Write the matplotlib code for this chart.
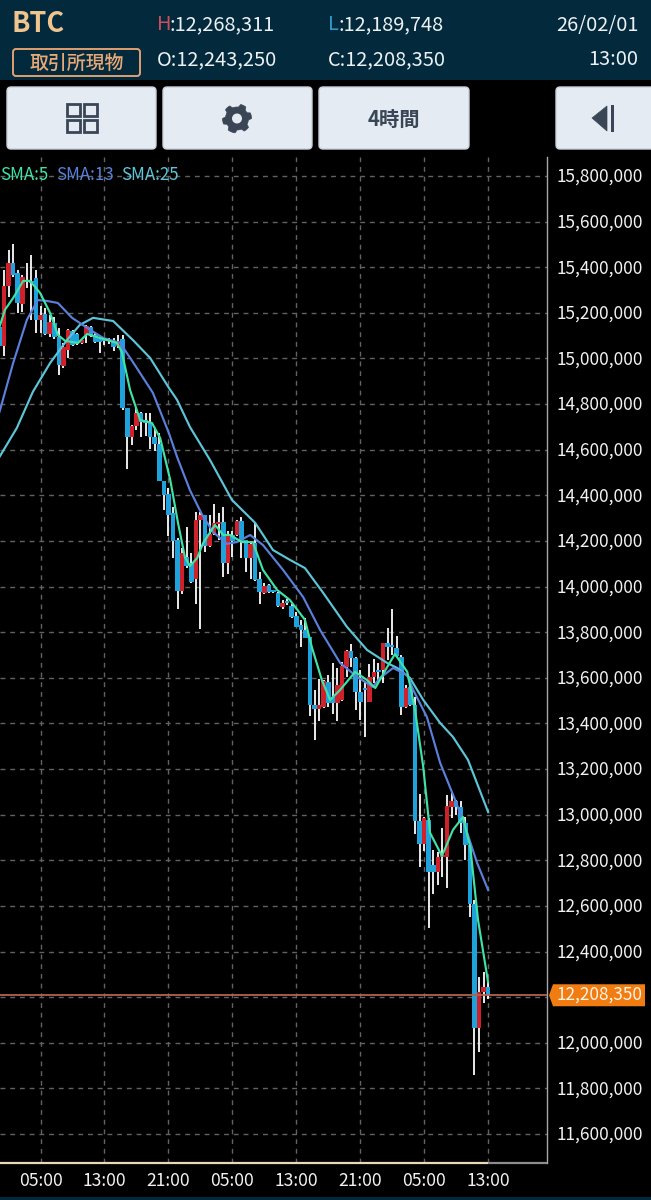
import matplotlib
matplotlib.use("Agg")
import matplotlib.pyplot as plt
from matplotlib.patches import FancyBboxPatch, Rectangle, Polygon, Circle
import numpy as np

plt.rcParams['font.family'] = ['Noto Sans CJK JP', 'DejaVu Sans']

# 4-hour candles, thousands of JPY
opens = [15138,15055,15318,15419,15375,15239,15335,15340,15353,15169,15195,15107,15156,15094,14967,15037,15121,15107,15068,15103,
         15138,15103,15090,15081,15077,15072,15055,15085,14783,14656,14704,14761,14730,14717,14656,14625,14463,14406,14323,14204,
         13981,14130,14103,14033,14292,14314,14178,14231,14274,14283,14103,14226,14226,14287,14204,14125,14191,14033,13972,14007,
         13981,13972,13911,13932,13915,13871,13832,13810,13779,13481,13463,13472,13582,13516,13490,13503,13647,13718,13687,13538,
         13555,13494,13604,13634,13634,13752,13744,13731,13691,13472,13560,13481,12972,12872,12977,12780,12749,12815,12815,13034,
         13060,13034,12964,12867,12608,12065,12223,12243.25]
highs = [15169,15388,15476,15502,15388,15366,15419,15454,15388,15230,15221,15191,15182,15134,15068,15129,15125,15112,15081,15147,
         15142,15112,15094,15090,15090,15090,15103,15103,14783,14708,14783,14765,14761,14761,14695,14672,14463,14432,14349,14213,
         14169,14261,14147,14327,14327,14314,14314,14362,14323,14349,14244,14244,14292,14305,14204,14195,14279,14064,14016,14012,
         13985,13976,13941,13945,13924,13889,13854,13862,13779,13547,13595,13590,13612,13665,13643,13669,13722,13748,13691,13634,
         13582,13661,13683,13665,13752,13818,13902,13783,13700,13569,13569,13516,13091,12990,12986,12845,12836,12942,13086,13095,
         13064,13060,12990,12876,12625,12288,12310,12268.311]
lows = [15055,15011,15270,15357,15199,15204,15309,15169,15112,15112,15103,15094,15085,14928,14958,15002,15055,15059,15064,15068,
        15094,15068,15024,15059,15064,15033,15046,14774,14515,14621,14686,14656,14660,14603,14594,14463,14336,14222,14125,13902,
        13968,14081,14016,13924,13814,14152,14174,14226,14204,14042,14055,14130,14222,14125,14064,14033,14024,13924,13968,13972,
        13972,13911,13902,13919,13862,13823,13735,13775,13432,13327,13411,13468,13472,13441,13411,13498,13604,13647,13459,13415,
        13341,13494,13577,13577,13577,13678,13700,13691,13437,13468,13476,12915,12771,12841,12503,12652,12692,12727,12678,12986,
        13000,12920,12801,12551,11859,11960,12174,12189.748]
closes = [15055,15318,15419,15366,15243,15357,15344,15331,15169,15191,15107,15160,15094,14971,15050,15125,15059,15064,15081,15142,
          15098,15072,15072,15077,15081,15050,15077,14783,14656,14704,14761,14722,14717,14656,14625,14463,14402,14314,14200,13981,
          14147,14090,14020,14292,14314,14178,14231,14279,14283,14103,14226,14200,14287,14195,14125,14187,14029,13976,14003,13976,
          13976,13915,13928,13928,13867,13823,13810,13775,13481,13463,13481,13586,13490,13490,13569,13652,13718,13687,13538,13494,
          13547,13604,13626,13626,13752,13735,13735,13696,13472,13555,13481,12972,12872,12986,12749,12749,12815,12823,13038,13060,
          13034,12964,12867,12608,12065,12223,12245,12208.35]

sma25_i = [0,3.8,7.3,11.1,14.8,17.6,20.5,24.9,29.2,33,37.1,38.9,41.7,46.1,50.9,56,59.9,63.6,66.9,70.9,76.1,80.5,84.9,87.1,89.9,92.8,96.5,99.3,102.6,107]
sma25_v = [14568,14695,14853,14980,15081,15147,15178,15164,15081,15002,14871,14818,14700,14555,14380,14279,14160,14117,14081,13972,13823,13722,13665,13643,13599,13503,13402,13341,13240,13012]
sma13_i = [0,3,6,8.4,10.4,12.8,15.9,19.2,22.7,26.4,29.2,33.6,37.1,38.9,41.7,44.4,46.8,49.8,52,54.9,57.7,62.1,66.5,70.2,74.6,78.3,81.8,83.3,86.2,89.3,90.6,93.6,96.5,99.8,102,104.6,107]
sma13_v = [14765,14980,15169,15256,15252,15243,15178,15134,15090,15068,14985,14849,14673,14568,14423,14314,14239,14187,14195,14226,14182,14073,13954,13810,13665,13604,13560,13599,13643,13612,13547,13428,13227,13064,12946,12788,12670]
sma5_i = [0,1.2,3,5.2,6.7,8.9,11.1,12.8,14.4,17.2,19.2,22,25.7,26.8,28.6,30.8,33.4,35.2,37.4,39.1,40.6,41.7,43.3,44.6,47.2,49,50.5,53.1,55.5,57.7,60.8,63.6,66.9,68.4,70.6,72.4,74.6,77.9,80.5,82.3,84.9,86.6,89.3,91,92.8,94.3,96.9,99.3,101.5,103.1,104.8,107]
sma5_v = [15138,15213,15265,15340,15340,15287,15199,15103,15077,15068,15107,15090,15068,15028,14862,14730,14717,14651,14467,14279,14130,14090,14125,14191,14270,14226,14226,14195,14195,14073,13985,13941,13854,13735,13590,13503,13547,13626,13590,13555,13647,13704,13626,13459,13209,12920,12819,12933,12990,12858,12538,12266]

y_ticks = [15800,15600,15400,15200,15000,14800,14600,14400,14200,14000,13800,13600,13400,13200,13000,12800,12600,12400,12200,12000,11800,11600]
hidden_y_labels = [12200]  # covered by the current-price tag in the reference
x_tick_labels = ['05:00','13:00','21:00','05:00','13:00','21:00','05:00','13:00']
x_tick_idx = [9,23,37,51,65,79,93,107]
last_price = 12208.35

W, H = 651, 1200
NAVY = '#032A3C'
fig = plt.figure(figsize=(W/100, H/100), dpi=100, facecolor='black')

def box(l, t, r, b):
    return [l/W, 1-b/H, (r-l)/W, (b-t)/H]

ax = fig.add_axes(box(0, 157, 547, 1163), facecolor='black', zorder=1)
ax.set_xlim(0.12, 119.9)
ax.set_ylim(11473, 15883)
for s in ['left', 'top', 'bottom']:
    ax.spines[s].set_visible(False)
ax.spines['right'].set_color('#a8a8a8')
ax.spines['right'].set_linewidth(1.0)
ax.set_yticks(y_ticks)
ax.set_xticks(x_tick_idx)
ax.set_xticklabels(x_tick_labels, color='#f2f2f2', fontsize=12.6)
ax.set_yticklabels([])
ax.tick_params(length=0)
ax.tick_params(axis='x', pad=6.5)
ax.grid(True, color='#626262', linewidth=1.0, linestyle=(0, (3.5, 3.5)))
ax.set_axisbelow(True)

idx = np.arange(len(opens))
o, h, l, c = map(np.array, (opens, highs, lows, closes))
up = c >= o
ax.vlines(idx, l, h, color='#f4f4f4', linewidth=1.35, zorder=3)
ax.bar(idx, np.maximum(np.abs(c-o), 8), bottom=np.minimum(o, c), width=1.0,
       color=np.where(up, '#D0202A', '#1FA2DB'), linewidth=0, zorder=4)

ax.plot(sma25_i, sma25_v, color='#5CC6D8', lw=1.55, zorder=5, solid_joinstyle='round')
ax.plot(sma13_i, sma13_v, color='#5A80DC', lw=1.55, zorder=5, solid_joinstyle='round')
ax.plot(sma5_i, sma5_v, color='#3FE3A6', lw=1.55, zorder=6, solid_joinstyle='round')
ax.plot([0.12, 119.9], [last_price, last_price], color='#B4624C', lw=1.3, zorder=7)

# page furniture in pixel coordinates
ov = fig.add_axes([0, 0, 1, 1], facecolor='none', zorder=2)
ov.set_xlim(0, W); ov.set_ylim(H, 0); ov.axis('off')
ov.add_patch(Rectangle((0, 0), W, 80, color=NAVY, lw=0))
ov.add_patch(Rectangle((0, 1197), W, 3, color=NAVY, lw=0))
ov.plot([0, 488], [1163, 1163], color='#EAD7BE', lw=1.6, solid_capstyle='butt')
ov.plot([488, 547], [1163, 1163], color='#8d8d8d', lw=1.6, solid_capstyle='butt')

TXT = '#EDF1F4'
FS = 14.4
ov.text(11, 24, 'BTC', color='#F0C48E', fontsize=19.5, fontweight='bold', va='center', ha='left')
ov.text(157, 25, 'H', color='#C9505A', fontsize=FS, va='center')
ov.text(169.5, 25, ':12,268,311', color=TXT, fontsize=FS, va='center')
ov.text(328, 25, 'L', color='#2E9CCB', fontsize=FS, va='center')
ov.text(338.5, 25, ':12,189,748', color=TXT, fontsize=FS, va='center')
ov.text(157, 59.5, 'O:12,243,250', color=TXT, fontsize=FS, va='center')
ov.text(328, 59.5, 'C:12,208,350', color=TXT, fontsize=FS, va='center')
ov.text(638.5, 25, '26/02/01', color=TXT, fontsize=FS, va='center', ha='right')
ov.text(638.5, 59.5, '13:00', color=TXT, fontsize=FS, va='center', ha='right')
ov.add_patch(FancyBboxPatch((13, 49), 127, 27, boxstyle='round,pad=0,rounding_size=3', fc='none', ec='#E0A070', lw=1.4))
ov.text(76.5, 62.5, '取引所現物', color='#E8A878', fontsize=13.6, fontweight='medium', va='center', ha='center')

for a, b in [(7, 156), (163, 312), (319, 469), (556, 660)]:
    ov.add_patch(FancyBboxPatch((a, 87), b-a, 62, boxstyle='round,pad=0,rounding_size=4', fc='#E5EBF2', ec='#CBD1D9', lw=1))
ICON = '#3A4656'
for x0, y0 in [(67, 104), (84, 104), (67, 120), (84, 120)]:
    ov.add_patch(Rectangle((x0, y0), 13, 12, fc='none', ec=ICON, lw=2.0))
angs = np.linspace(0, 2*np.pi, 48, endpoint=False)
rad = np.where(((angs + np.pi/8) % (np.pi/3)) < np.pi/6, 14.5, 11.5)
ov.add_patch(Polygon(np.c_[237+rad*np.cos(angs), 118.5+rad*np.sin(angs)], fc=ICON, ec=ICON, lw=0.5))
ov.add_patch(Circle((237, 118.5), 5, fc='#E5EBF2', ec='none'))
ov.text(394, 119, '4時間', color=ICON, fontsize=14.6, fontweight='bold', va='center', ha='center')
ov.add_patch(Polygon([[592, 118], [607, 106], [607, 131]], fc=ICON, ec=ICON, lw=0.5))
ov.add_patch(Rectangle((610.5, 105), 3, 27, fc=ICON, ec='none'))

SF = 12.2
ov.text(0, 175, 'SMA:5', color='#3FE3A6', fontsize=SF, va='center')
ov.text(56, 175, 'SMA:13', color='#5A80DC', fontsize=SF, va='center')
ov.text(121, 175, 'SMA:25', color='#5CC6D8', fontsize=SF, va='center')

# right price scale, placed with the chart's own y-scale
for t in y_ticks:
    if t in hidden_y_labels:
        continue
    ax.annotate(f'{t*1000:,}', xy=(1, t), xycoords=('axes fraction', 'data'), xytext=(10, -1),
                textcoords='offset pixels', color='#F2F2F2', fontsize=12.4, va='center', ha='left',
                annotation_clip=False)

tag_y = H - ax.transData.transform((0, last_price))[1]
ov.add_patch(Polygon([[553, tag_y-11], [645, tag_y-11], [645, tag_y+11], [553, tag_y+11], [549, tag_y]],
                     fc='#F07C12', ec='none'))
ov.text(557, tag_y-0.5, f'{int(last_price*1000):,}', color='#FFF3E6', fontsize=12.4, va='center', ha='left')

fig.savefig('out.png', dpi=100, facecolor='black')
